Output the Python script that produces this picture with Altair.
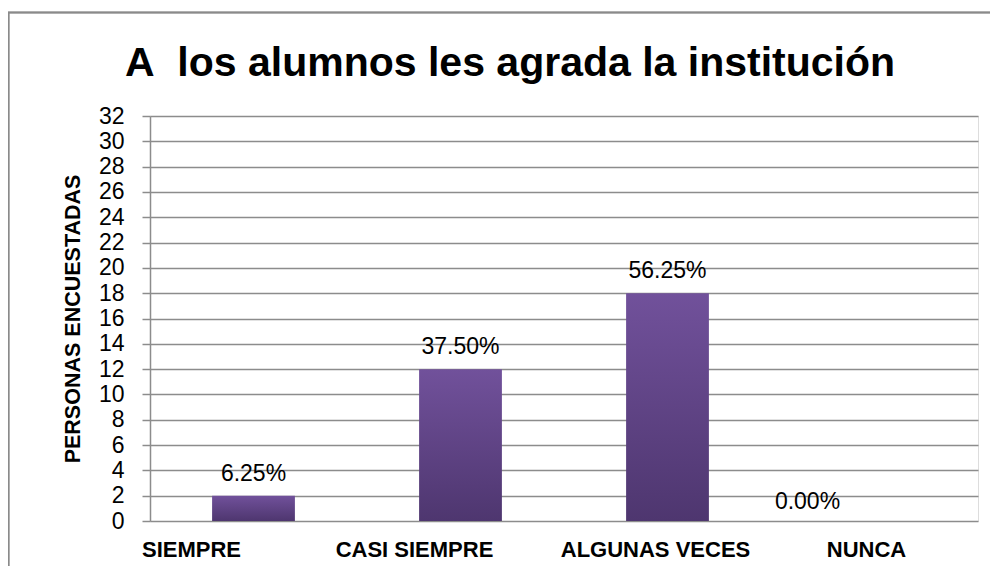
import altair as alt
import pandas as pd

categories = ["SIEMPRE", "CASI SIEMPRE", "ALGUNAS VECES", "NUNCA"]
counts = [2, 12, 18, 0]
pct_labels = ["6.25%", "37.50%", "56.25%", "0.00%"]
y_ticks = list(range(0, 33, 2))

df = pd.DataFrame({"cat": categories, "n": counts, "lbl": pct_labels})

W, H = 828, 405
PAD = {"left": 142, "top": 108, "right": 12, "bottom": 45}
FONT = "Liberation Sans"
GRID = "#8c8c8c"

# label offsets (style) for x-axis labels as in the original export
x_label_shift = {"SIEMPRE": -62, "CASI SIEMPRE": -46, "ALGUNAS VECES": -12, "NUNCA": -8}
offset_cond = {
    "condition": [
        {"test": f"datum.value === '{k}'", "value": v} for k, v in x_label_shift.items()
    ],
    "value": 0,
}

x_enc = alt.X(
    "cat:N",
    sort=categories,
    scale=alt.Scale(paddingInner=0.6, paddingOuter=0.3),
    axis=alt.Axis(
        title=None,
        labelAngle=0,
        labelFont=FONT,
        labelFontSize=22,
        labelFontWeight="bold",
        labelColor="black",
        labelPadding=18,
        labelLimit=0,
        ticks=False,
        domain=False,
        labelOffset=offset_cond,
    ),
)
y_enc = alt.Y(
    "n:Q",
    scale=alt.Scale(domain=[0, 32], nice=False),
    axis=alt.Axis(
        values=y_ticks,
        title="PERSONAS  ENCUESTADAS",
        titleFont=FONT,
        titleFontSize=21.5,
        titleFontWeight="bold",
        titleColor="black",
        titlePadding=14,
        labelFont=FONT,
        labelFontSize=23,
        labelColor="black",
        labelPadding=18,
        labelOverlap=False,
        tickSize=8,
        tickColor=GRID,
        tickWidth=1.5,
        domainColor=GRID,
        domainWidth=1.5,
        gridColor=GRID,
        gridWidth=1.5,
        grid=True,
    ),
)

base = alt.Chart(df).encode(x=x_enc, y=y_enc)

# top and left edges of the chart frame
frame_top = base.mark_rule(stroke="#8a8a8a", strokeWidth=1.5, clip=False).encode(
    x=alt.value(-142), x2=alt.value(W + 20), y=alt.value(-103.5), y2=alt.value(-103.5)
)
frame_left = base.mark_rule(stroke="#8a8a8a", strokeWidth=1.5, clip=False).encode(
    x=alt.value(-141.5), x2=alt.value(-141.5), y=alt.value(-104), y2=alt.value(H + 45)
)

bars = base.mark_bar(
    color=alt.Gradient(
        gradient="linear",
        stops=[alt.GradientStop(color="#71519b", offset=0), alt.GradientStop(color="#4e366f", offset=1)],
        x1=0, x2=0, y1=0, y2=1,
    )
)

text_main = base.transform_filter("datum.n > 0").mark_text(
    font=FONT, fontSize=23, color="black", baseline="middle", dy=-22
).encode(text="lbl:N")

text_zero = base.transform_filter("datum.n == 0").mark_text(
    font=FONT, fontSize=23, color="black", baseline="middle", dy=-19, dx=-67
).encode(text="lbl:N")

chart = (
    alt.layer(frame_top, frame_left, bars, text_main, text_zero)
    .properties(
        width=W,
        height=H,
        padding=PAD,
        autosize=alt.AutoSizeParams(type="none"),
        title=alt.TitleParams(
            "A\u00a0\u00a0los alumnos les agrada la institución",
            font=FONT,
            fontSize=41,
            fontWeight="bold",
            color="black",
            anchor="middle",
            baseline="alphabetic",
            offset=-106,
            dx=-54,
        ),
    )
    .configure_view(stroke=None)
    .configure(background="white")
)

chart.save("out.html", embed_options={"renderer": "svg", "actions": False})
